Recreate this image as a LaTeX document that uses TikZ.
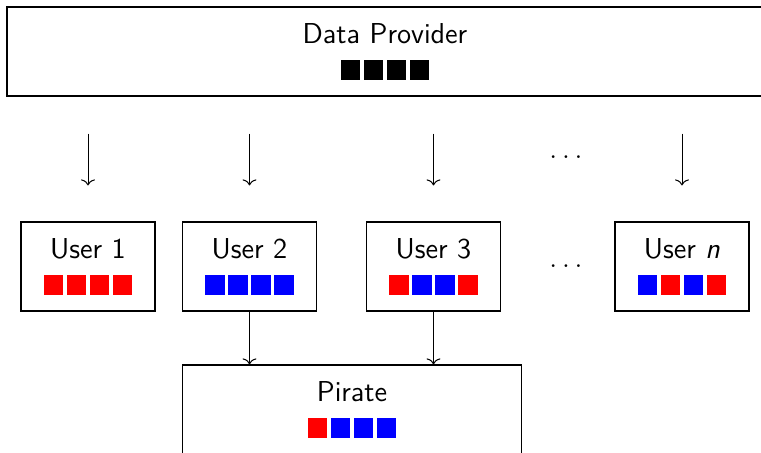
\documentclass[tikz,border=0pt]{standalone}
\usetikzlibrary{positioning,arrows.meta}

\newcommand{\blocksq}[1]{\textcolor{#1}{\rule{9.75pt}{10pt}}}
\newcommand{\cellrow}[4]{\blocksq{#1}\hspace{1.75pt}\blocksq{#2}\hspace{1.75pt}\blocksq{#3}\hspace{1.75pt}\blocksq{#4}}

\begin{document}
\begin{tikzpicture}[
        x=0.5pt, y=-0.5pt,
        >={To[width=7pt,length=3pt]},
        every node/.style={font=\sffamily\Large, align=center},
        box/.style={draw, rectangle, line width=0.6pt, minimum height=44.5pt, inner sep=0pt},
        user/.style={box, minimum width=67pt},
        wide/.style={box, minimum width=#1},
        flow/.style={->, line width=0.5pt}
    ]
    \useasboundingbox (0,0) rectangle (761,452);

    \node [wide=378pt] (dp) at (385,51.5) {Data Provider\\\cellrow{black}{black}{black}{black}};

    \node [user] (u1) at (88,266.5) {User 1\\\cellrow{red}{red}{red}{red}};
    \node [user] (u2) at (249.5,266.5) {User 2\\\cellrow{blue}{blue}{blue}{blue}};
    \node [user] (u3) at (433.5,266.5) {User 3\\\cellrow{red}{blue}{blue}{red}};
    \node [user] (un) at (682,266.5) {User \textit{n}\\\cellrow{blue}{red}{blue}{red}};

    \node (topdots) at (566,157) {$\ldots$};
    \node (middots) at (566,266) {$\ldots$};

    \node [wide=169.5pt] (pirate) at (352,409.5) {Pirate\\\cellrow{red}{blue}{blue}{blue}};

    % provider to users
    \foreach \u in {u1,u2,u3,un}
        \draw [flow, shorten <=18.5pt, shorten >=18pt] (\u.north |- dp.south) -- (\u.north);

    % leaked copies
    \draw [flow] (u2.south) -- (u2.south |- pirate.north);
    \draw [flow] (u3.south) -- (u3.south |- pirate.north);
\end{tikzpicture}
\end{document}
